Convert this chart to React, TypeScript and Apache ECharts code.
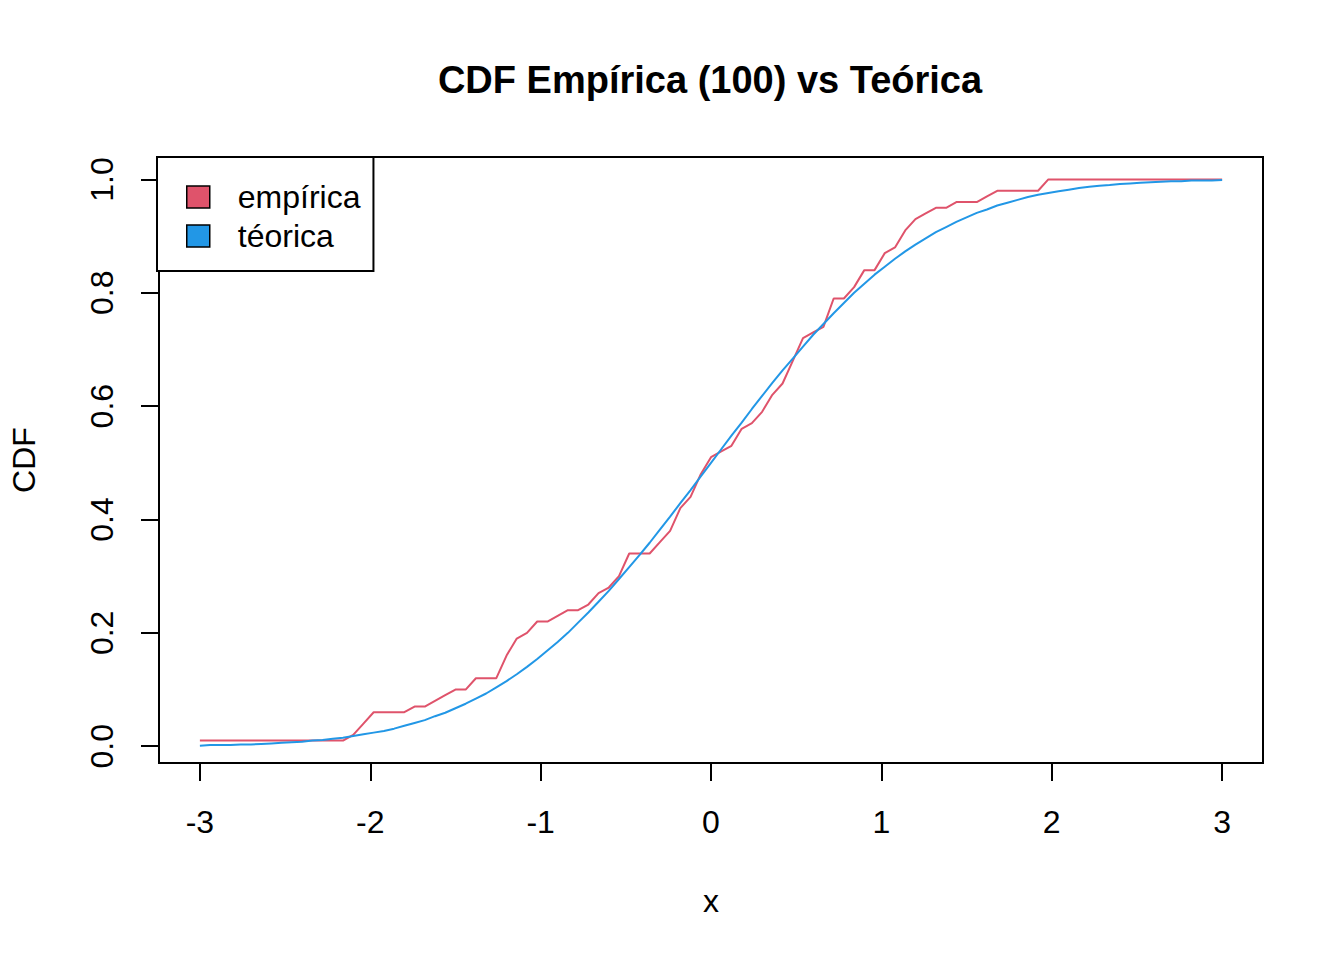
import { useEffect, useRef } from "react";
import * as echarts from "echarts";

const xGrid = [
  -3.0, -2.94, -2.88, -2.82, -2.76, -2.7, -2.64, -2.58, -2.52, -2.46,
  -2.4, -2.34, -2.28, -2.22, -2.16, -2.1, -2.04, -1.98, -1.92, -1.86,
  -1.8, -1.74, -1.68, -1.62, -1.56, -1.5, -1.44, -1.38, -1.32, -1.26,
  -1.2, -1.14, -1.08, -1.02, -0.96, -0.9, -0.84, -0.78, -0.72, -0.66,
  -0.6, -0.54, -0.48, -0.42, -0.36, -0.3, -0.24, -0.18, -0.12, -0.06,
  0.0, 0.06, 0.12, 0.18, 0.24, 0.3, 0.36, 0.42, 0.48, 0.54,
  0.6, 0.66, 0.72, 0.78, 0.84, 0.9, 0.96, 1.02, 1.08, 1.14,
  1.2, 1.26, 1.32, 1.38, 1.44, 1.5, 1.56, 1.62, 1.68, 1.74,
  1.8, 1.86, 1.92, 1.98, 2.04, 2.1, 2.16, 2.22, 2.28, 2.34,
  2.4, 2.46, 2.52, 2.58, 2.64, 2.7, 2.76, 2.82, 2.88, 2.94,
  3.0,
];

const empirica = [
  0.01, 0.01, 0.01, 0.01, 0.01, 0.01, 0.01, 0.01, 0.01, 0.01,
  0.01, 0.01, 0.01, 0.01, 0.01, 0.02, 0.04, 0.06, 0.06, 0.06,
  0.06, 0.07, 0.07, 0.08, 0.09, 0.1, 0.1, 0.12, 0.12, 0.12,
  0.16, 0.19, 0.2, 0.22, 0.22, 0.23, 0.24, 0.24, 0.25, 0.27,
  0.28, 0.3, 0.34, 0.34, 0.34, 0.36, 0.38, 0.42, 0.44, 0.48,
  0.51, 0.52, 0.53, 0.56, 0.57, 0.59, 0.62, 0.64, 0.68, 0.72,
  0.73, 0.74, 0.79, 0.79, 0.81, 0.84, 0.84, 0.87, 0.88, 0.91,
  0.93, 0.94, 0.95, 0.95, 0.96, 0.96, 0.96, 0.97, 0.98, 0.98,
  0.98, 0.98, 0.98, 1.0, 1.0, 1.0, 1.0, 1.0, 1.0, 1.0,
  1.0, 1.0, 1.0, 1.0, 1.0, 1.0, 1.0, 1.0, 1.0, 1.0,
  1.0,
];

const teorica = [
  0.001, 0.002, 0.002, 0.002, 0.003, 0.003, 0.004, 0.005, 0.006, 0.007,
  0.008, 0.01, 0.011, 0.013, 0.015, 0.018, 0.021, 0.024, 0.027, 0.031,
  0.036, 0.041, 0.046, 0.053, 0.059, 0.067, 0.075, 0.084, 0.093, 0.104,
  0.115, 0.127, 0.14, 0.154, 0.169, 0.184, 0.2, 0.218, 0.236, 0.255,
  0.274, 0.295, 0.316, 0.337, 0.359, 0.382, 0.405, 0.429, 0.452, 0.476,
  0.5, 0.524, 0.548, 0.571, 0.595, 0.618, 0.641, 0.663, 0.684, 0.705,
  0.726, 0.745, 0.764, 0.782, 0.8, 0.816, 0.832, 0.846, 0.86, 0.873,
  0.885, 0.896, 0.907, 0.916, 0.925, 0.933, 0.941, 0.947, 0.954, 0.959,
  0.964, 0.969, 0.973, 0.976, 0.979, 0.982, 0.985, 0.987, 0.989, 0.99,
  0.992, 0.993, 0.994, 0.995, 0.996, 0.997, 0.997, 0.998, 0.998, 0.998,
  0.999,
];

const xTicks = [-3, -2, -1, 0, 1, 2, 3];
const yTicks = [0, 0.2, 0.4, 0.6, 0.8, 1.0];
const seriesNames = ["empírica", "téorica"];
const seriesColors = ["#DF536B", "#2297E6"];
const titleText = "CDF Empírica (100) vs Teórica";
const xName = "x";
const yName = "CDF";

export default function App() {
  const ref = useRef<HTMLDivElement>(null);
  useEffect(() => {
    document.body.style.margin = "0";
    const chart = echarts.init(ref.current!, null, { renderer: "svg" });
    const font = "'Liberation Sans', Arial, Helvetica, sans-serif";
    chart.setOption({
      animation: false,
      backgroundColor: "#ffffff",
      textStyle: { fontFamily: font },
      grid: {
        left: 157,
        top: 157,
        width: 1106,
        height: 606,
        show: true,
        borderColor: "#000",
        borderWidth: 2,
        backgroundColor: "transparent",
      },
      graphic: [
        {
          type: "text",
          x: 710,
          y: 80,
          style: {
            text: titleText,
            fontFamily: font,
            fontSize: 38,
            fontWeight: "bold",
            fill: "#000",
            align: "center",
            verticalAlign: "middle",
          },
        },
      ],
      legend: {
        left: 157,
        top: 157,
        orient: "vertical",
        data: seriesNames.map((n) => ({ name: n, icon: "rect" })),
        itemWidth: 23,
        itemHeight: 22,
        itemGap: 7,
        padding: [24, 13, 19, 29],
        borderColor: "#000",
        borderWidth: 2,
        borderRadius: 0,
        backgroundColor: "#fff",
        selectedMode: false,
        itemStyle: { borderColor: "#000", borderWidth: 1.5 },
        textStyle: {
          fontSize: 32,
          color: "#000",
          fontFamily: font,
          lineHeight: 32,
          padding: [0, 0, 0, 23],
        },
      },
      xAxis: {
        type: "value",
        min: -3.24,
        max: 3.24,
        name: xName,
        nameLocation: "middle",
        nameGap: 122,
        nameTextStyle: { fontSize: 32, color: "#000", fontFamily: font },
        axisLine: { show: false, onZero: false },
        splitLine: { show: false },
        axisTick: {
          show: true,
          length: 18,
          customValues: xTicks,
          lineStyle: { color: "#000", width: 2 },
        },
        axisLabel: {
          customValues: xTicks,
          fontSize: 32,
          color: "#000",
          fontFamily: font,
          margin: 43,
          formatter: (v: number) => String(v),
        },
      },
      yAxis: {
        type: "value",
        min: -0.0296,
        max: 1.0396,
        name: yName,
        nameLocation: "middle",
        nameGap: 119,
        nameTextStyle: { fontSize: 32, color: "#000", fontFamily: font },
        axisLine: { show: false, onZero: false },
        splitLine: { show: false },
        axisTick: {
          show: true,
          length: 18,
          customValues: yTicks,
          lineStyle: { color: "#000", width: 2 },
        },
        axisLabel: {
          customValues: yTicks,
          rotate: 90,
          fontSize: 32,
          color: "#000",
          fontFamily: font,
          margin: 41,
          formatter: (v: number) => v.toFixed(1),
        },
      },
      series: seriesNames.map((name, k) => ({
        name,
        type: "line",
        data: xGrid.map((x, i) => [x, (k === 0 ? empirica : teorica)[i]]),
        showSymbol: false,
        symbol: "none",
        color: seriesColors[k],
        itemStyle: { color: seriesColors[k] },
        lineStyle: { color: seriesColors[k], width: 2 },
        z: 2 + k,
      })),
    });
    return () => chart.dispose();
  }, []);
  return (
    <div
      ref={ref}
      style={{ position: "absolute", left: 0, top: 0, width: 1344, height: 960 }}
    />
  );
}
